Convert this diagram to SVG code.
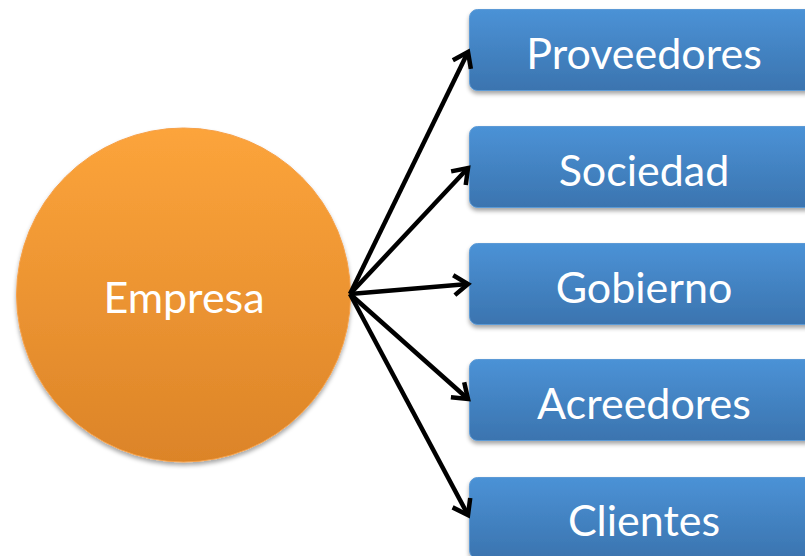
<svg xmlns="http://www.w3.org/2000/svg" width="805" height="556" viewBox="0 0 805 556">
<defs>
<linearGradient id="gBlue" x1="0" y1="0" x2="0" y2="1">
<stop offset="0" stop-color="#4b92d6"/>
<stop offset="1" stop-color="#3b74af"/>
</linearGradient>
<linearGradient id="gOrange" x1="0" y1="0" x2="0" y2="1">
<stop offset="0" stop-color="#fca43b"/>
<stop offset="1" stop-color="#dc8428"/>
</linearGradient>
<filter id="shadow" x="-10%" y="-10%" width="120%" height="130%">
<feDropShadow dx="0" dy="3" stdDeviation="2" flood-color="#000" flood-opacity="0.35"/>
</filter>
<marker id="arrow" markerUnits="userSpaceOnUse" markerWidth="30" markerHeight="30" viewBox="-20 -15 30 30" refX="0" refY="0" orient="auto">
<path d="M-14,-10 L0,0 L-14,10" fill="none" stroke="#000" stroke-width="4.5" stroke-linejoin="miter"/>
</marker>
<style>
.box{fill:url(#gBlue);stroke:#5c9ad6;stroke-width:1;filter:url(#shadow);}
.lbl{font-family:Lato,"Open Sans","Liberation Sans",sans-serif;font-size:43px;fill:#ffffff;text-anchor:middle;}
.conn{stroke:#000;stroke-width:4.5;fill:none;marker-end:url(#arrow);}
</style>
</defs>
<rect width="805" height="556" fill="#ffffff"/>
<g id="empresa">
<circle cx="183.5" cy="295" r="167" fill="url(#gOrange)" stroke="#f6a048" stroke-width="1" filter="url(#shadow)"/>
<text class="lbl" x="184" y="313">Empresa</text>
</g>
<g id="proveedores">
<rect class="box" x="469.5" y="9.5" width="360" height="81" rx="8"/>
<text class="lbl" x="644" y="69">Proveedores</text>
</g>
<g id="sociedad">
<rect class="box" x="469.5" y="126.5" width="360" height="81" rx="8"/>
<text class="lbl" x="644" y="186">Sociedad</text>
</g>
<g id="gobierno">
<rect class="box" x="469.5" y="243.5" width="360" height="81" rx="8"/>
<text class="lbl" x="644" y="303">Gobierno</text>
</g>
<g id="acreedores">
<rect class="box" x="469.5" y="359.5" width="360" height="81" rx="8"/>
<text class="lbl" x="644" y="419">Acreedores</text>
</g>
<g id="clientes">
<rect class="box" x="469.5" y="477.5" width="360" height="81" rx="8"/>
<text class="lbl" x="644" y="536">Clientes</text>
</g>
<g id="connectors">
<line class="conn" x1="350" y1="294" x2="468" y2="52"/>
<line class="conn" x1="350" y1="294" x2="468" y2="168"/>
<line class="conn" x1="350" y1="294" x2="468" y2="284"/>
<line class="conn" x1="350" y1="294" x2="468" y2="399"/>
<line class="conn" x1="350" y1="294" x2="468" y2="515"/>
</g>
</svg>
